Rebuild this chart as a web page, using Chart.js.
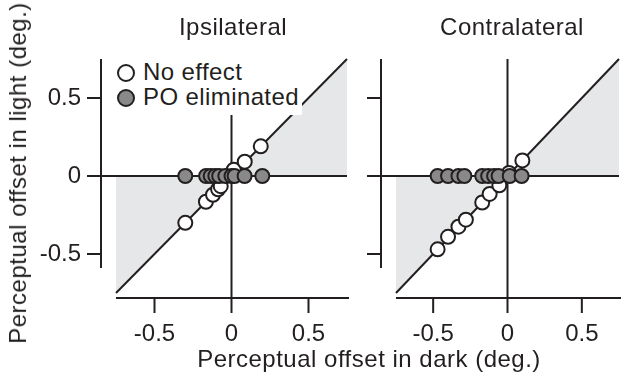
<!DOCTYPE html>
<html>
<head>
<meta charset="utf-8">
<script src="https://cdn.jsdelivr.net/npm/chart.js@4/dist/chart.umd.min.js"></script>
<style>
  html, body { margin: 0; padding: 0; background: #fff; }
  body { width: 625px; height: 379px; position: relative; overflow: hidden;
         font-family: "Liberation Sans", Arial, sans-serif; color: #231f20; }
  canvas { position: absolute; top: 0; }
  #cvIpsi   { left: 0; }
  #cvContra { left: 360px; }
  .txt { position: absolute; white-space: nowrap; font-size: 24px; line-height: 1; letter-spacing: 0.5px; }
  .ttl { top: 15px; transform: translateX(-50%); }
  #xTitle { left: 369px; top: 347px; transform: translateX(-50%); }
  #yTitle { left: 18px; top: 173px; transform: translate(-50%, -50%) rotate(-90deg); }
  #legend { position: absolute; left: 103px; top: 58px; width: 199px; height: 57px;
            background: #fff; font-size: 24px; letter-spacing: 0.4px; }
  #legend div { position: absolute; left: 14px; height: 24px; line-height: 24px; }
  #legend span.dot { display: inline-block; width: 14px; height: 14px; border-radius: 50%;
            border: 2px solid #231f20; vertical-align: -2px; margin-right: 8px; }
</style>
</head>
<body>
<canvas id="cvIpsi" width="360" height="379"></canvas>
<canvas id="cvContra" width="268" height="379"></canvas>
<div class="txt ttl" style="left:233px">Ipsilateral</div>
<div class="txt ttl" style="left:512px">Contralateral</div>
<div class="txt" id="xTitle">Perceptual offset in dark (deg.)</div>
<div class="txt" id="yTitle">Perceptual offset in light (deg.)</div>
<div id="legend">
  <div style="top:2px"><span class="dot" style="background:#fff"></span>No effect</div>
  <div style="top:27px"><span class="dot" style="background:#898989"></span>PO eliminated</div>
</div>
<script>
// ---- data (deg.) -------------------------------------------------------
const tickValues = [-0.5, 0, 0.5];
const axisMin = -0.75, axisMax = 0.75;
const ySpineMin = -0.59;

// Ipsilateral panel
const ipsiNoEffectX = [-0.30, -0.166, -0.12, -0.087, -0.07, 0.015, 0.086, 0.19];
const ipsiNoEffectY = [-0.30, -0.165, -0.12, -0.085, -0.065, 0.04, 0.092, 0.19];
const ipsiElimX = [-0.30, -0.165, -0.135, -0.105, -0.08, -0.04, 0, 0.02, 0.085, 0.20];
const ipsiElimY = [0, 0, 0, 0, 0, 0, 0, 0, 0, 0];

// Contralateral panel
const contraNoEffectX = [-0.47, -0.40, -0.33, -0.28, -0.17, -0.12, -0.055, 0.01, 0.10];
const contraNoEffectY = [-0.47, -0.39, -0.325, -0.28, -0.17, -0.115, -0.06, 0.02, 0.10];
const contraElimX = [-0.47, -0.40, -0.33, -0.29, -0.17, -0.13, -0.09, -0.06, 0.015, 0.095];
const contraElimY = [0, 0, 0, 0, 0, 0, 0, 0, 0, 0];

const INK = '#231f20';
const SHADE = '#e6e7e8';
const GREY = '#898989';
const FONT = '"Liberation Sans", Arial, sans-serif';

const toPoints = (xs, ys) => xs.map((x, i) => ({ x, y: ys[i] }));

// ---- custom drawing: shading, diagonal, zero lines, offset spines --------
const framePlugin = {
  id: 'frame',
  beforeDatasetsDraw(chart) {
    const { ctx } = chart;
    const xs = chart.scales.x, ys = chart.scales.y;
    const X = v => xs.getPixelForValue(v), Y = v => ys.getPixelForValue(v);
    const area = chart.chartArea;
    const spineX = area.left - 15;
    const spineY = area.bottom + 5;

    ctx.save();
    // shaded region between the diagonal and the horizontal axis
    ctx.fillStyle = SHADE;
    ctx.beginPath();
    ctx.moveTo(X(axisMin), Y(0)); ctx.lineTo(X(0), Y(0)); ctx.lineTo(X(axisMin), Y(axisMin));
    ctx.closePath(); ctx.fill();
    ctx.beginPath();
    ctx.moveTo(X(0), Y(0)); ctx.lineTo(X(axisMax), Y(axisMax)); ctx.lineTo(X(axisMax), Y(0));
    ctx.closePath(); ctx.fill();

    ctx.strokeStyle = INK;
    ctx.lineWidth = 2;
    // unity line
    ctx.beginPath();
    ctx.moveTo(X(axisMin), Y(axisMin)); ctx.lineTo(X(axisMax), Y(axisMax)); ctx.stroke();
    // zero lines
    ctx.beginPath();
    ctx.moveTo(spineX, Y(0)); ctx.lineTo(area.right, Y(0));
    ctx.moveTo(X(0), area.top); ctx.lineTo(X(0), spineY);
    ctx.stroke();
    // y spine + ticks
    ctx.beginPath();
    ctx.moveTo(spineX, Y(axisMax)); ctx.lineTo(spineX, Y(ySpineMin));
    tickValues.forEach(v => { ctx.moveTo(spineX, Y(v)); ctx.lineTo(spineX - 14, Y(v)); });
    // x spine + ticks
    ctx.moveTo(X(axisMin), spineY); ctx.lineTo(area.right + 2, spineY);
    tickValues.forEach(v => { ctx.moveTo(X(v), spineY); ctx.lineTo(X(v), spineY + 15); });
    ctx.stroke();
    ctx.restore();
  }
};

function makePanel(id, noEffX, noEffY, elimX, elimY, opt) {
  const ctx = document.getElementById(id).getContext('2d');
  return new Chart(ctx, {
    type: 'scatter',
    data: {
      datasets: [
        {
          label: 'PO eliminated',
          data: toPoints(elimX, elimY),
          backgroundColor: GREY, borderColor: INK, borderWidth: 2, pointRadius: 7
        },
        {
          label: 'No effect',
          data: toPoints(noEffX, noEffY),
          backgroundColor: '#ffffff', borderColor: INK, borderWidth: 2, pointRadius: 7
        }
      ]
    },
    options: {
      responsive: false,
      animation: false,
      events: [],
      layout: { padding: { top: 59, right: opt.padRight, left: 0, bottom: 0 } },
      plugins: { legend: { display: false }, tooltip: { enabled: false } },
      scales: {
        x: {
          type: 'linear', min: axisMin, max: axisMax,
          afterBuildTicks: s => { s.ticks = tickValues.map(v => ({ value: v })); },
          afterFit: s => { s.height = 86; },
          grid: { display: false, drawTicks: false },
          border: { display: false },
          ticks: { color: INK, padding: 27, font: { family: FONT, size: 24 },
                   callback: v => String(v) }
        },
        y: {
          type: 'linear', min: axisMin, max: axisMax,
          afterBuildTicks: s => { s.ticks = tickValues.map(v => ({ value: v })); },
          afterFit: s => { s.width = opt.yWidth; },
          grid: { display: false, drawTicks: false },
          border: { display: false },
          ticks: { display: opt.yLabels, color: INK, padding: 35,
                   font: { family: FONT, size: 24 },
                   callback: v => String(v) }
        }
      }
    },
    plugins: [framePlugin]
  });
}

makePanel('cvIpsi', ipsiNoEffectX, ipsiNoEffectY, ipsiElimX, ipsiElimY,
          { yWidth: 116, padRight: 13, yLabels: true });
makePanel('cvContra', contraNoEffectX, contraNoEffectY, contraElimX, contraElimY,
          { yWidth: 36, padRight: 0, yLabels: false });
</script>
</body>
</html>
